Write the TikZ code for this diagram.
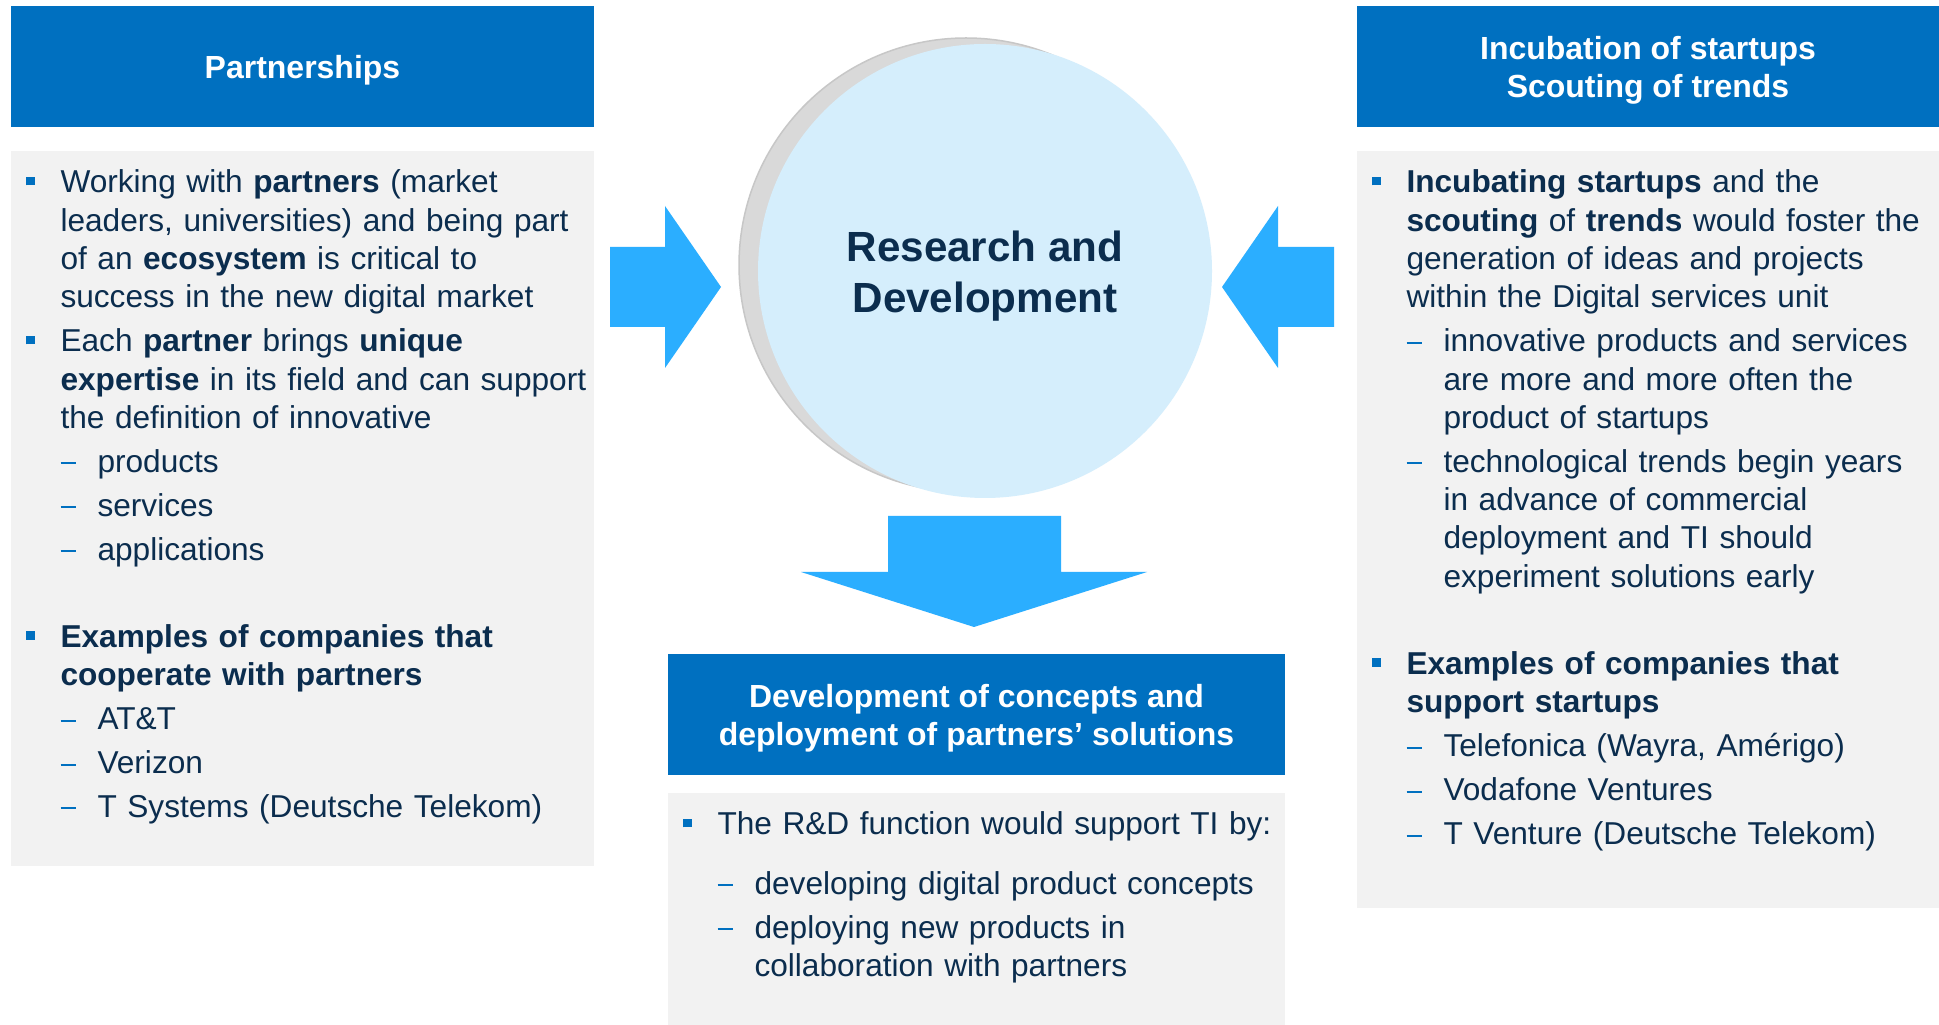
\documentclass[tikz,border=0pt]{standalone}
\usepackage{fontspec}
\setmainfont{Liberation Sans}
\usetikzlibrary{positioning,calc}
\definecolor{rdBlue}{HTML}{0070C0}
\definecolor{rdSky}{HTML}{2BAEFF}
\definecolor{rdPale}{HTML}{D5EEFC}
\definecolor{rdCloud}{HTML}{F2F2F2}
\definecolor{rdInk}{HTML}{0B2D4E}
\definecolor{rdShade}{HTML}{D9D9D9}
% list marks
\newcommand\rdsq{\textcolor{rdBlue}{\rule[0.75mm]{0.85mm}{0.85mm}}}
\newcommand\rddash{\textcolor{rdBlue}{\rule[0.8mm]{1.5mm}{0.2mm}}}
\newcommand\itemA[1]{\par\hangindent=3.45mm\hangafter=1\noindent\strut\hbox to 3.45mm{\rdsq\hfil}#1}
\newcommand\itemB[1]{\par\hangindent=7.15mm\hangafter=1\noindent\strut\hspace*{3.45mm}\hbox to 3.7mm{\rddash\hfil}#1}
\tikzset{
  rdhead/.style={fill=rdBlue, inner sep=0pt},
  rdtitle/.style={text=white, inner sep=0pt, align=center, font=\fontsize{9.1}{10.9}\selectfont\bfseries},
  rdpanel/.style={fill=rdCloud, inner sep=0pt},
  rdtext/.style={anchor=north west, inner sep=0pt, text=rdInk, font=\fontsize{9.0}{10.9}\selectfont,
    execute at begin node={\raggedright\parindent=0pt\parskip=1.6pt}},
  rdarrow/.style={fill=rdSky},
}

\begin{document}
\begin{tikzpicture}[x=0.1mm,y=-0.1mm]
  \useasboundingbox[fill=white] (0,0) rectangle (1939,1025);
  % headers
  \node[rdhead, minimum width=58.3mm, minimum height=12.1mm] (partHead) at (302.5,66.5) {};
  \node[rdhead, minimum width=58.2mm, minimum height=12.1mm] (incHead) at (1648,66.5) {};
  \node[rdhead, minimum width=61.7mm, minimum height=12.1mm] (devHead) at (976.5,714.5) {};
  \node[rdtitle] (partTitle) at ($(partHead.center)+(0,4)$) {Partnerships};
  \node[rdtitle] (incTitle) at ($(incHead.center)+(0,4)$) {Incubation of startups\\Scouting of trends};
  \node[rdtitle] (devTitle) at ($(devHead.center)+(0,4)$) {Development of concepts and\\deployment of partners’ solutions};
  % panels
  \node[rdpanel, minimum width=58.3mm, minimum height=71.5mm] (partBody) at (302.5,508.5) {};
  \node[rdpanel, minimum width=58.2mm, minimum height=75.7mm] (incBody) at (1648,529.5) {};
  \node[rdpanel, minimum width=61.7mm, minimum height=23.2mm] (devBody) at (976.5,909) {};
  % panel texts
  \node[rdtext, text width=60mm] (partText) at ($(partBody.north west)+(15,-2)$) {%
    \itemA{Working with \textbf{partners} (market\newline leaders, universities) and being part\newline of an \textbf{ecosystem} is critical to\newline success in the new digital market}
    \itemA{Each \textbf{partner} brings \textbf{unique}\newline \textbf{expertise} in its field and can support\newline the definition of innovative}
    \itemB{products}
    \itemB{services}
    \itemB{applications}
    \par\vspace{12.3pt}
    \itemA{\textbf{Examples of companies that}\newline \textbf{cooperate with partners}}
    \itemB{AT\&T}
    \itemB{Verizon}
    \itemB{T Systems (Deutsche Telekom)}\par};
  \node[rdtext, text width=60mm] (incText) at ($(incBody.north west)+(15,-2)$) {%
    \itemA{\textbf{Incubating startups} and the\newline \textbf{scouting} of \textbf{trends} would foster the\newline generation of ideas and projects\newline within the Digital services unit}
    \itemB{innovative products and services\newline are more and more often the\newline product of startups}
    \itemB{technological trends begin years\newline in advance of commercial\newline deployment and TI should\newline experiment solutions early}
    \par\vspace{12.3pt}
    \itemA{\textbf{Examples of companies that}\newline \textbf{support startups}}
    \itemB{Telefonica (Wayra, Amérigo)}
    \itemB{Vodafone Ventures}
    \itemB{T Venture (Deutsche Telekom)}\par};
  \node[rdtext, text width=64mm] (devText) at ($(devBody.north west)+(15,-2)$) {%
    \itemA{The R\&D function would support TI by:}
    \par\vspace{4.4pt}
    \itemB{developing digital product concepts}
    \itemB{deploying new products in\newline collaboration with partners}\par};
  % centre circle with its shadow
  \coordinate (rdc) at (985,271);
  \fill[rdShade, draw=black!22, line width=0.15mm] ($(rdc)+(-19,-6)$) circle[radius=22.7mm];
  \node[circle, fill=rdPale, minimum size=45.4mm, inner sep=0pt] (rd) at (rdc) {};
  \node[text=rdInk, align=center, inner sep=0pt, font=\fontsize{12}{14.4}\selectfont\bfseries]
    (rdTitle) at ($(rd.center)+(0,5)$) {Research and\\Development};
  % block arrows
  \fill[rdarrow] (610,247) -- (665,247) -- (665,206) -- (721,287) -- (665,368) -- (665,327) -- (610,327) -- cycle;
  \fill[rdarrow] (1334,247) -- (1278,247) -- (1278,206) -- (1222,287) -- (1278,368) -- (1278,327) -- (1334,327) -- cycle;
  \fill[rdarrow] (888,516) -- (1061,516) -- (1061,572) -- (1147,572) -- (974,627) -- (801,572) -- (888,572) -- cycle;
\end{tikzpicture}
\end{document}
